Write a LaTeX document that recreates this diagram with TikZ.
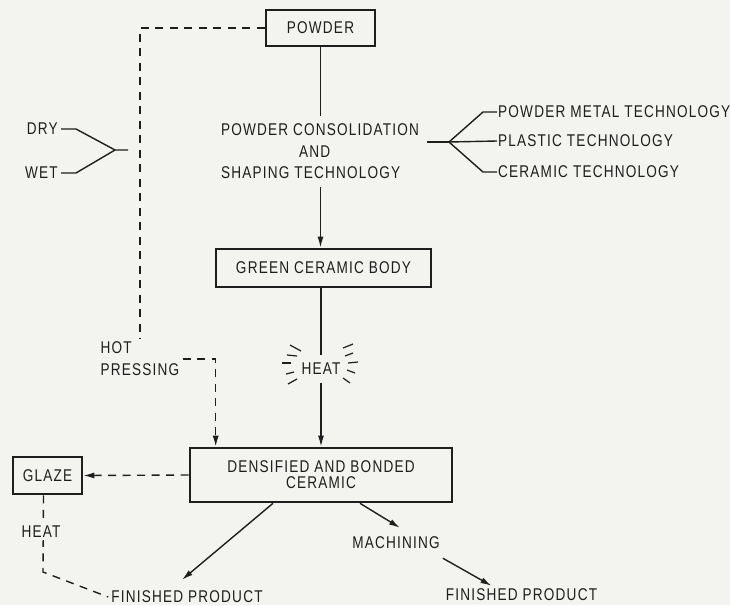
\documentclass[tikz,border=0pt]{standalone}
\usepackage{fontspec}
\setmainfont{Liberation Sans}[FakeStretch=0.8,LetterSpace=7]
\usetikzlibrary{arrows.meta,calc}
\definecolor{bg}{RGB}{243,243,240}
\definecolor{ink}{RGB}{30,30,30}
\begin{document}
\begin{tikzpicture}[x=1pt,y=-1pt,
  every node/.style={text=ink,font=\fontsize{17}{19}\selectfont,inner sep=3pt},
  box/.style={draw=ink,line width=2.6pt},
  conn/.style={draw=ink,line width=1.4pt},
  dsh/.style={conn,dash pattern=on 8pt off 6.5pt},
  ray/.style={draw=ink,line width=1.2pt},
  >={Latex[length=11pt,width=6pt]}]
\useasboundingbox (0,0) rectangle (730,605);
\fill[bg] (0,0) rectangle (730,605);
% main chain
\node[box,minimum width=109pt,minimum height=36pt] (powder) at (320.5,28) {POWDER};
\node[align=left,font=\fontsize{17}{21.5}\selectfont,inner sep=8pt] (consol) at (320,151.5) {POWDER CONSOLIDATION\\\hspace*{78pt}AND\\SHAPING TECHNOLOGY};
\node[box,minimum width=215pt,minimum height=38pt] (green) at (323.5,268) {GREEN CERAMIC BODY};
\node[inner sep=8pt] (heat) at (321,369) {HEAT};
\node[box,minimum width=262pt,minimum height=54pt,align=center,font=\fontsize{17}{16}\selectfont] (dens) at (321,475) {DENSIFIED AND BONDED\\CERAMIC};
\node[box,minimum width=69pt,minimum height=37pt] (glaze) at (47.5,475.5) {GLAZE};
\node[align=left,font=\fontsize{17}{22}\selectfont] (hot) at (140,359) {HOT\\PRESSING};
\node[anchor=east] (dry) at (61,129) {DRY};
\node[anchor=east] (wet) at (61,173) {WET};
\node[anchor=west,inner sep=1pt] (pm) at (497,112) {POWDER METAL TECHNOLOGY};
\node[anchor=west,inner sep=1pt] (pl) at (497,141) {PLASTIC TECHNOLOGY};
\node[anchor=west,inner sep=1pt] (ce) at (497,172) {CERAMIC TECHNOLOGY};
\node[inner ysep=9pt,inner xsep=3pt] (mach) at (396,543) {MACHINING};
\node (finl) at (187,597) {FINISHED PRODUCT};
\node (finr) at (521.5,595) {FINISHED PRODUCT};
% solid connectors
\draw[conn] (powder.south) -- (powder.south |- consol.north);
\draw[conn,->] (powder.south |- consol.south) -- (powder.south |- green.north);
\draw[conn] (heat.north |- green.south) -- (heat.north);
\draw[conn,->] (heat.south) -- (heat.south |- dens.north);
\coordinate (lj) at (115,150);
\coordinate (lend) at (128,150);
\draw[conn] (dry.east) -- ++(15,0) -- (lj) -- (lend);
\draw[conn] (wet.east) -- ++(15,0) -- (lj);
\coordinate (rj) at (449,142);
\draw[conn] (consol.east |- rj) -- (rj);
\draw[conn] (rj) -- ([xshift=-14pt]pm.west) -- (pm.west);
\draw[conn] (rj) -- (pl.west);
\draw[conn] (rj) -- ([xshift=-14pt]ce.west) -- (ce.west);
\draw[conn,->] ([xshift=-48pt]dens.south) -- ([shift={(-5,-8)}]finl.north);
\draw[conn,->] ([xshift=39pt]dens.south) -- ([xshift=4pt]mach.north);
\draw[conn,->] (mach.south east) -- ([xshift=-30pt]finr.north);
% dashed connectors
\draw[dsh] (powder.west) -| (hot.north);
\draw[dsh,->] (hot.east) -| ([xshift=27pt]dens.north west);
\draw[dsh,->] (dens.west) -- (glaze.east);
\coordinate (gc) at (43,572);
\draw[dsh] ([xshift=-4pt]glaze.south) -- (gc) -- (finl.west);
\node[fill=bg,inner sep=2pt] (gheat) at (41,532) {HEAT};
% heat rays
\begin{scope}[shift={(heat.center)}]
\draw[ray] (-31,-24) -- (-20,-18);
\draw[ray] (-34,-14) -- (-24,-13);
\draw[ray] (-39,-6) -- (-30,-6);
\draw[ray] (-35,5) -- (-27,3);
\draw[ray] (-33,15) -- (-24,10);
\draw[ray] (22,-21) -- (32,-25);
\draw[ray] (24,-13) -- (32,-16);
\draw[ray] (27,-6) -- (37,-7);
\draw[ray] (26,1) -- (34,4);
\draw[ray] (22,9) -- (29,14);
\end{scope}
\end{tikzpicture}
\end{document}
